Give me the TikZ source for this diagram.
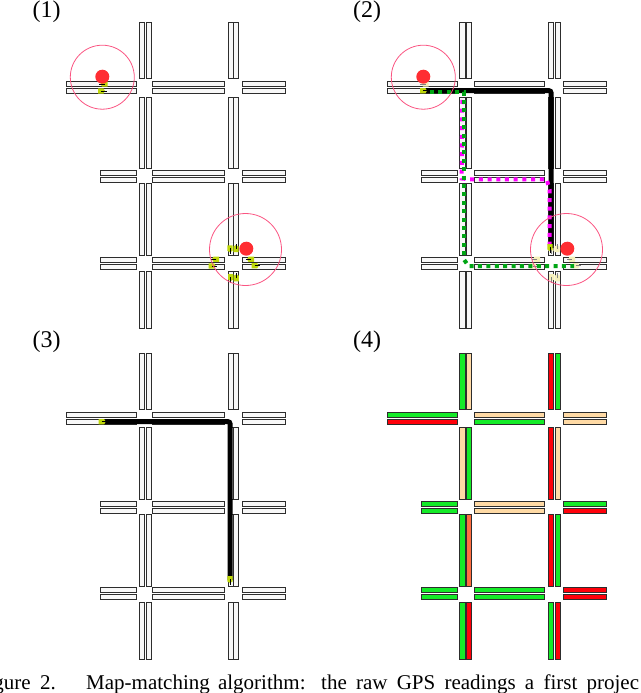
\documentclass[tikz,border=0pt]{standalone}
\usepackage{fontspec}
\setmainfont{Liberation Serif}
\definecolor{roadfill}{RGB}{248,248,248}
\definecolor{roadedge}{RGB}{45,45,45}
\definecolor{gr}{RGB}{20,235,40}
\definecolor{rd}{RGB}{255,0,10}
\definecolor{tn}{RGB}{255,218,165}
\definecolor{og}{RGB}{255,110,65}
\definecolor{ringc}{RGB}{250,85,130}
\definecolor{dotc}{RGB}{255,45,50}
\definecolor{marka}{RGB}{190,215,10}
\definecolor{markb}{RGB}{245,240,185}
\definecolor{routeg}{RGB}{0,165,20}
\definecolor{routem}{RGB}{255,0,255}
% panel 4 colours: v<column><segment>, h<row><line><span>
\colorlet{v11}{gr}\colorlet{v12}{tn}\colorlet{v13}{gr}\colorlet{v14}{gr}
\colorlet{v21}{tn}\colorlet{v22}{gr}\colorlet{v23}{og}\colorlet{v24}{rd}
\colorlet{v31}{rd}\colorlet{v32}{rd}\colorlet{v33}{rd}\colorlet{v34}{gr}
\colorlet{v41}{gr}\colorlet{v42}{tn}\colorlet{v43}{gr}\colorlet{v44}{rd}
\colorlet{h111}{gr}\colorlet{h112}{tn}\colorlet{h113}{tn}
\colorlet{h121}{rd}\colorlet{h122}{gr}\colorlet{h123}{tn}
\colorlet{h211}{gr}\colorlet{h212}{tn}\colorlet{h213}{gr}
\colorlet{h221}{gr}\colorlet{h222}{tn}\colorlet{h223}{rd}
\colorlet{h311}{gr}\colorlet{h312}{gr}\colorlet{h313}{rd}
\colorlet{h321}{gr}\colorlet{h322}{gr}\colorlet{h323}{rd}
\tikzset{
  road/.style={draw=roadedge,line width=0.9pt},
  ring/.style={draw=ringc,line width=0.8pt},
  reddot/.style={fill=dotc},
  fat/.style={draw=black,line width=5pt,rounded corners=2pt},
  dashg/.style={draw=routeg,line width=4pt,dash pattern=on 4pt off 4.4pt},
  dashm/.style={draw=routem,line width=4pt,dash pattern=on 4pt off 4.7pt},
  plabel/.style={font=\fontsize{24}{27}\selectfont,inner sep=0pt},
  captext/.style={font=\fontsize{21}{24}\selectfont,inner sep=0pt,anchor=base west}
}
% layouts
\newcommand{\layoutL}{%
 \def\Ca{139}\def\Cb{144}\def\Cc{146}\def\Cd{151}\def\Ce{228}\def\Cf{233}\def\Cg{233.6}\def\Ch{238.7}%
 \def\Sa{66.5}\def\Sb{100.7}\def\Sc{136.7}\def\Sd{152.3}\def\Se{224}\def\Sf{242.3}\def\Sg{285.7}}
\newcommand{\layoutR}{%
 \def\Ca{139.7}\def\Cb{145}\def\Cc{146.7}\def\Cd{151.7}\def\Ce{228.7}\def\Cf{233.7}\def\Cg{235.3}\def\Ch{240.7}%
 \def\Sa{67.7}\def\Sb{101.7}\def\Sc{137}\def\Sd{154.3}\def\Se{224.7}\def\Sf{243.3}\def\Sg{286.3}}
\newcommand{\plainroads}{\def\roadcol##1{roadfill}}
\newcommand{\paintroads}{\def\roadcol##1{##1}}
\newcommand{\roadgrid}[2]{%
 \begin{scope}[shift={(#1,#2)}]
 \foreach \xa/\xb/\c in {\Ca/\Cb/1,\Cc/\Cd/2,\Ce/\Cf/3,\Cg/\Ch/4}
  \foreach \ya/\yb/\s in {22.7/78.7/1,97/168.3/2,183.7/255.7/3,271.3/328.3/4}
   \draw[road,fill=\roadcol{v\c\s}] (\xa,\ya) rectangle (\xb,\yb);
 \foreach \ya/\yb/\r/\l/\st in {81.3/86.7/1/1/\Sa,88.3/93.7/1/2/\Sa,170.3/175.3/2/1/\Sb,177.3/182.3/2/2/\Sb,257/262.2/3/1/\Sb,264.1/269/3/2/\Sb}{
   \draw[road,fill=\roadcol{h\r\l1}] (\st,\ya) rectangle (\Sc,\yb);
   \draw[road,fill=\roadcol{h\r\l2}] (\Sd,\ya) rectangle (\Se,\yb);
   \draw[road,fill=\roadcol{h\r\l3}] (\Sf,\ya) rectangle (\Sg,\yb);
 }
 \end{scope}}
% position marker: #1,#2 position, #3 angle, #4 fill, #5 tick colour
\newcommand{\gpsmark}[5]{%
 \begin{scope}[shift={(#1,#2)},rotate=#3]
  \fill[#4] (-4,-2.6) -- (1.5,-2.6) -- (3,0) -- (1.5,2.6) -- (-4,2.6) -- cycle;
  \draw[#5,line width=0.9pt] (-1,0) -- (4.5,0);
 \end{scope}}
\newcommand{\markcluster}[3]{% dx, fill, tick
 \gpsmark{230+#1}{249.3}{-90}{#2}{#3}
 \gpsmark{236+#1}{248}{90}{#2}{#3}
 \gpsmark{230.7+#1}{278}{-90}{#2}{#3}
 \gpsmark{236.3+#1}{277.3}{90}{#2}{#3}
 \gpsmark{215+#1}{259.3}{180}{#2}{#3}
 \gpsmark{212.7+#1}{266}{0}{#2}{#3}
 \gpsmark{250+#1}{259.3}{180}{#2}{#3}
 \gpsmark{255.7+#1}{265.7}{0}{#2}{#3}}
\begin{document}
\begin{tikzpicture}[x=1pt,y=-1pt]
\useasboundingbox (0,0) rectangle (640,693);
\clip (0,0) rectangle (640,693);
% panel labels
\node[plabel] (p1) at (46.7,11.5) {(1)};
\node[plabel] (p2) at (367,11.5) {(2)};
\node[plabel] (p3) at (46.7,341.5) {(3)};
\node[plabel] (p4) at (367,341.5) {(4)};
% panel 1
\layoutL\plainroads
\roadgrid{0}{0}
\gpsmark{103.5}{84}{180}{marka}{black}
\gpsmark{102}{91}{0}{marka}{black}
\markcluster{0}{marka}{black}
\draw[ring] (102.3,77.2) circle (32);
\draw[ring] (245.5,249.5) circle (36);
\fill[reddot] (102.3,76.7) circle (7);
\fill[reddot] (246.3,248.7) circle (7);
% panel 2
\layoutR\plainroads
\roadgrid{320}{0}
\gpsmark{424.5}{84}{180}{markb}{gray}
\markcluster{321}{markb}{gray}
\draw[fat] (424,90.7) -- (551,90.7) -- (551,248);
\draw[dashm] (462.3,100) -- (461.7,170) -- (461.7,178.5) -- (470,179.3) -- (546.7,179.3) -- (549.7,190) -- (549.7,245);
\draw[dashg] (430,92) -- (464,92) -- (464,255);
\draw[dashg] (464.3,260) -- (468.5,266) -- (574,266);
\gpsmark{424}{90.7}{0}{marka}{black}
\gpsmark{550}{248}{-90}{marka}{black}
\draw[ring] (423.3,77.2) circle (32);
\draw[ring] (566.5,249.5) circle (36);
\fill[reddot] (423.3,76.7) circle (7);
\fill[reddot] (567.3,248.7) circle (7);
% panel 3
\layoutL\plainroads
\roadgrid{0}{330.7}
\draw[fat] (103,421.7) -- (230,421.7) -- (230,580);
\gpsmark{102.7}{421.7}{0}{marka}{black}
\gpsmark{230}{580}{-90}{marka}{black}
% panel 4
\layoutR\paintroads
\roadgrid{320}{330.7}
% caption
\node[captext,anchor=base east] (c1) at (56,689) {gure\hspace{4pt} 2.};
\node[captext] (c2) at (86,689) {Map-matching\hspace{3pt} algorithm:};
\node[captext] (c3) at (321,689) {the\hspace{4pt} raw\hspace{4pt} GPS\hspace{4pt} readings\hspace{4pt} a\hspace{4pt} first\hspace{4pt} projec};
\end{tikzpicture}
\end{document}
